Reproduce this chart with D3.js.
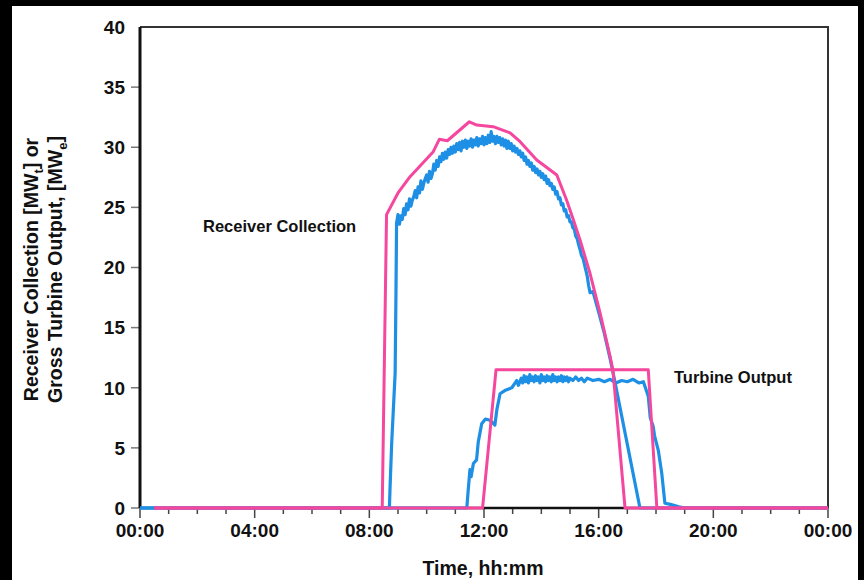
<!DOCTYPE html>
<html>
<head>
<meta charset="utf-8">
<script src="https://cdn.jsdelivr.net/npm/d3@7"></script>
<style>
  html, body { margin: 0; padding: 0; background: #000; }
  svg { display: block; font-family: "Liberation Sans", Arial, sans-serif; font-weight: bold; }
</style>
</head>
<body>
<div id="chart"></div>
<script>
const width = 864;
const height = 580;

// ticks del eje x (horas) y sus etiquetas
const majorHours = [0, 4, 8, 12, 16, 20, 24];
const hourLabels = ["00:00", "04:00", "08:00", "12:00", "16:00", "20:00", "00:00"];
const minorHours = d3.range(0, 25);
const yTicks = [0, 5, 10, 15, 20, 25, 30, 35, 40];

// Receiver Collection, modelo (rosa) [hora, MW]
const receiverModel = [
  [0.5, 0], [8.45, 0], [8.6, 24.4], [9.0, 26.2], [9.42, 27.55], [10.23, 29.63],
  [10.44, 30.66], [10.72, 30.54], [11.49, 32.12], [11.75, 31.85], [12.32, 31.71],
  [12.91, 31.19], [13.26, 30.46], [13.84, 28.94], [14.54, 27.69], [14.88, 25.61],
  [15.12, 23.95], [15.35, 22.29], [15.7, 19.5], [16.05, 16.2], [16.4, 12.6],
  [16.5, 11.4], [16.92, 0], [24, 0]
];

// Turbine Output, modelo (rosa)
const turbineModel = [
  [0.5, 0], [11.95, 0], [12.42, 11.5], [17.73, 11.5], [18.03, 0], [24, 0]
];

// Receiver Collection, medido (azul)
const receiverMeasured = [
  [0, 0], [8.7, 0], [8.72, 1.5], [8.78, 5.4], [8.9, 11.2], [8.93, 18.1], [8.95, 23.7],
  [9.0, 24.4], [9.05, 23.6], [9.1, 24.3], [9.15, 24.0], [9.2, 24.9], [9.25, 24.4],
  [9.3, 25.3], [9.35, 24.8], [9.4, 25.7], [9.45, 25.1], [9.5, 25.6], [9.55, 25.9],
  [9.6, 26.4], [9.65, 25.8], [9.7, 26.7], [9.75, 26.2], [9.8, 27.2], [9.85, 26.5],
  [9.9, 27.0], [9.95, 27.4], [10.0, 27.7], [10.05, 27.1], [10.1, 28.0], [10.15, 27.4],
  [10.2, 27.8], [10.25, 28.6], [10.3, 28.1], [10.35, 28.9], [10.4, 28.4], [10.45, 29.2],
  [10.5, 28.8], [10.55, 29.5], [10.6, 29.0], [10.65, 29.6], [10.7, 29.1], [10.75, 29.8],
  [10.8, 29.4], [10.85, 30.0], [10.9, 29.5], [10.95, 30.1], [11.0, 29.6], [11.05, 30.3],
  [11.1, 29.8], [11.15, 30.4], [11.2, 29.7], [11.25, 30.5], [11.3, 30.0], [11.35, 30.6],
  [11.4, 29.9], [11.45, 30.5], [11.5, 30.1], [11.55, 30.7], [11.6, 30.0], [11.65, 30.6],
  [11.7, 30.2], [11.75, 30.8], [11.8, 30.1], [11.85, 30.7], [11.9, 30.3], [11.95, 30.9],
  [12.0, 30.2], [12.05, 30.8], [12.1, 30.3], [12.15, 31.0], [12.2, 30.4], [12.25, 31.3],
  [12.3, 30.5], [12.35, 30.9], [12.4, 30.3], [12.45, 30.9], [12.5, 30.4], [12.55, 30.8],
  [12.6, 30.2], [12.65, 30.7], [12.7, 30.1], [12.75, 30.6], [12.8, 29.9], [12.85, 30.5],
  [12.9, 29.9], [12.95, 30.3], [13.0, 29.7], [13.05, 30.1], [13.1, 29.6], [13.15, 29.9],
  [13.2, 29.4], [13.25, 29.7], [13.3, 29.2], [13.35, 29.5], [13.4, 28.9], [13.45, 29.2],
  [13.5, 28.6], [13.55, 28.9], [13.6, 28.4], [13.65, 28.7], [13.7, 28.1], [13.75, 28.4],
  [13.8, 27.9], [13.85, 28.2], [13.9, 27.7], [13.95, 28.0], [14.0, 27.5], [14.05, 27.8],
  [14.1, 27.3], [14.15, 27.6], [14.2, 27.0], [14.25, 27.3], [14.3, 26.8], [14.35, 27.0],
  [14.4, 26.5], [14.45, 26.7], [14.5, 26.1], [14.55, 26.3], [14.6, 25.7], [14.65, 25.8],
  [14.7, 25.2], [14.75, 25.3], [14.8, 24.7], [14.85, 24.8], [14.9, 24.2], [14.95, 24.3],
  [15.0, 23.8], [15.05, 23.8], [15.1, 23.3], [15.15, 23.2], [15.2, 22.6], [15.25, 22.4],
  [15.3, 21.9], [15.35, 21.5], [15.4, 21.0], [15.45, 20.8], [15.5, 20.3], [15.55, 19.8],
  [15.6, 19.3], [15.65, 18.5], [15.7, 17.9], [15.8, 18.0], [16.0, 16.3], [16.2, 14.5],
  [16.4, 12.4], [16.55, 10.7], [17.44, 0], [24, 0]
];

// Turbine Output, medido (azul)
const turbineMeasured = [
  [0, 0], [11.4, 0], [11.45, 1.5], [11.51, 3.2], [11.55, 2.6], [11.63, 3.7], [11.74, 4.0],
  [11.8, 5.5], [11.92, 7.0], [12.05, 7.4], [12.21, 7.3], [12.38, 6.9], [12.45, 8.2],
  [12.56, 9.5], [12.75, 9.8], [12.97, 10.0], [13.14, 10.6], [13.2, 10.2], [13.3, 10.8],
  [13.35, 10.4], [13.4, 11.0], [13.45, 10.5], [13.5, 10.9], [13.55, 10.4], [13.6, 11.1],
  [13.65, 10.6], [13.7, 10.9], [13.75, 10.5], [13.8, 11.0], [13.85, 10.6], [13.9, 10.9],
  [13.95, 10.4], [14.0, 11.1], [14.05, 10.6], [14.1, 10.9], [14.15, 10.5], [14.2, 11.0],
  [14.25, 10.6], [14.3, 10.9], [14.35, 10.5], [14.4, 11.1], [14.45, 10.6], [14.5, 10.9],
  [14.55, 10.5], [14.6, 10.9], [14.65, 10.6], [14.7, 11.0], [14.75, 10.5], [14.8, 10.9],
  [14.85, 10.6], [14.9, 10.9], [14.95, 10.5], [15.0, 10.8], [15.1, 10.6], [15.2, 10.9],
  [15.3, 10.6], [15.4, 10.8], [15.5, 10.5], [15.6, 10.8], [15.8, 10.6], [16.0, 10.7],
  [16.2, 10.5], [16.4, 10.7], [16.6, 10.4], [16.8, 10.6], [17.0, 10.5], [17.2, 10.7],
  [17.4, 10.4], [17.56, 10.5], [17.73, 9.3], [17.8, 7.5], [17.9, 6.8], [17.95, 6.0],
  [18.08, 4.8], [18.2, 2.9], [18.31, 0.4], [18.5, 0.3], [18.8, 0.1], [19, 0], [24, 0]
];

const pink = "#f4479d";
const blue = "#1d8fe4";

const margin = { left: 140, right: 36, top: 27, bottom: 72 };

const svg = d3.select("#chart")
  .append("svg")
  .attr("width", width)
  .attr("height", height);

// fondo negro con lienzo blanco
svg.append("rect").attr("width", width).attr("height", height).attr("fill", "#000");
svg.append("rect").attr("x", 12).attr("y", 6).attr("width", 846).attr("height", 574).attr("fill", "#fff");

const x = d3.scaleLinear().domain([0, 24]).range([margin.left, width - margin.right]);
const y = d3.scaleLinear().domain([0, 40]).range([height - margin.bottom, margin.top]);

const x0 = x(0), x1 = x(24), y0 = y(0), y1 = y(40);

// marco superior y derecho
svg.append("path")
  .attr("d", `M${x0},${y1}H${x1}V${y0}`)
  .attr("fill", "none")
  .attr("stroke", "#333")
  .attr("stroke-width", 2);

// eje x: ticks menores cada hora, mayores cada 4 h
const xAxisG = svg.append("g");
xAxisG.selectAll("line.minor")
  .data(minorHours)
  .enter()
  .append("line")
  .attr("x1", d => x(d)).attr("x2", d => x(d))
  .attr("y1", y0).attr("y2", d => y0 + (d % 4 === 0 ? 10 : 6))
  .attr("stroke", "#444")
  .attr("stroke-width", 1.5);

xAxisG.selectAll("text")
  .data(majorHours)
  .enter()
  .append("text")
  .attr("x", d => x(d))
  .attr("y", y0 + 29)
  .attr("text-anchor", "middle")
  .attr("font-size", 19)
  .attr("fill", "#111")
  .text((d, i) => hourLabels[i]);

// eje y
const yAxisG = svg.append("g");
yAxisG.selectAll("line")
  .data(yTicks.filter(d => d < 40))
  .enter()
  .append("line")
  .attr("x1", x0 - 9).attr("x2", x0)
  .attr("y1", d => y(d)).attr("y2", d => y(d))
  .attr("stroke", "#777")
  .attr("stroke-width", 1.5);

yAxisG.selectAll("text")
  .data(yTicks)
  .enter()
  .append("text")
  .attr("x", x0 - 15)
  .attr("y", d => y(d))
  .attr("dy", "0.36em")
  .attr("text-anchor", "end")
  .attr("font-size", 19)
  .attr("fill", "#111")
  .text(d => d);

// líneas de ejes
svg.append("line")
  .attr("x1", x0).attr("x2", x1).attr("y1", y0).attr("y2", y0)
  .attr("stroke", "#111").attr("stroke-width", 2.5);
svg.append("line")
  .attr("x1", x0).attr("x2", x0).attr("y1", y1).attr("y2", y0)
  .attr("stroke", "#111").attr("stroke-width", 3);

// series
const line = d3.line().x(d => x(d[0])).y(d => y(d[1]));

[receiverMeasured, turbineMeasured].forEach(s => {
  svg.append("path")
    .datum(s)
    .attr("d", line)
    .attr("fill", "none")
    .attr("stroke", blue)
    .attr("stroke-width", 3.2)
    .attr("stroke-linejoin", "round");
});

[receiverModel, turbineModel].forEach(s => {
  svg.append("path")
    .datum(s)
    .attr("d", line)
    .attr("fill", "none")
    .attr("stroke", pink)
    .attr("stroke-width", 3)
    .attr("stroke-linejoin", "round");
});

// anotaciones
svg.append("text")
  .attr("x", 203).attr("y", 232)
  .attr("font-size", 16.5)
  .attr("fill", "#111")
  .text("Receiver Collection");

svg.append("text")
  .attr("x", 674).attr("y", 383)
  .attr("font-size", 16.5)
  .attr("fill", "#111")
  .text("Turbine Output");

// títulos de ejes
svg.append("text")
  .attr("x", (x0 + x1) / 2 - 1)
  .attr("y", 575)
  .attr("text-anchor", "middle")
  .attr("font-size", 19.5)
  .attr("fill", "#111")
  .text("Time, hh:mm");

const yTitle = svg.append("text")
  .attr("transform", `translate(0,${(y0 + y1) / 2 + 2}) rotate(-90)`)
  .attr("text-anchor", "middle")
  .attr("font-size", 19.5)
  .attr("fill", "#111");

const l1 = yTitle.append("tspan").attr("x", 0).attr("y", 38);
l1.append("tspan").text("Receiver Collection [MW");
l1.append("tspan").attr("font-size", 13).attr("dy", 5).text("t");
l1.append("tspan").attr("dy", -5).text("] or");

const l2 = yTitle.append("tspan").attr("x", 0).attr("y", 62);
l2.append("tspan").text("Gross Turbine Output, [MW");
l2.append("tspan").attr("font-size", 13).attr("dy", 5).text("e");
l2.append("tspan").attr("dy", -5).text("]");
</script>
</body>
</html>
